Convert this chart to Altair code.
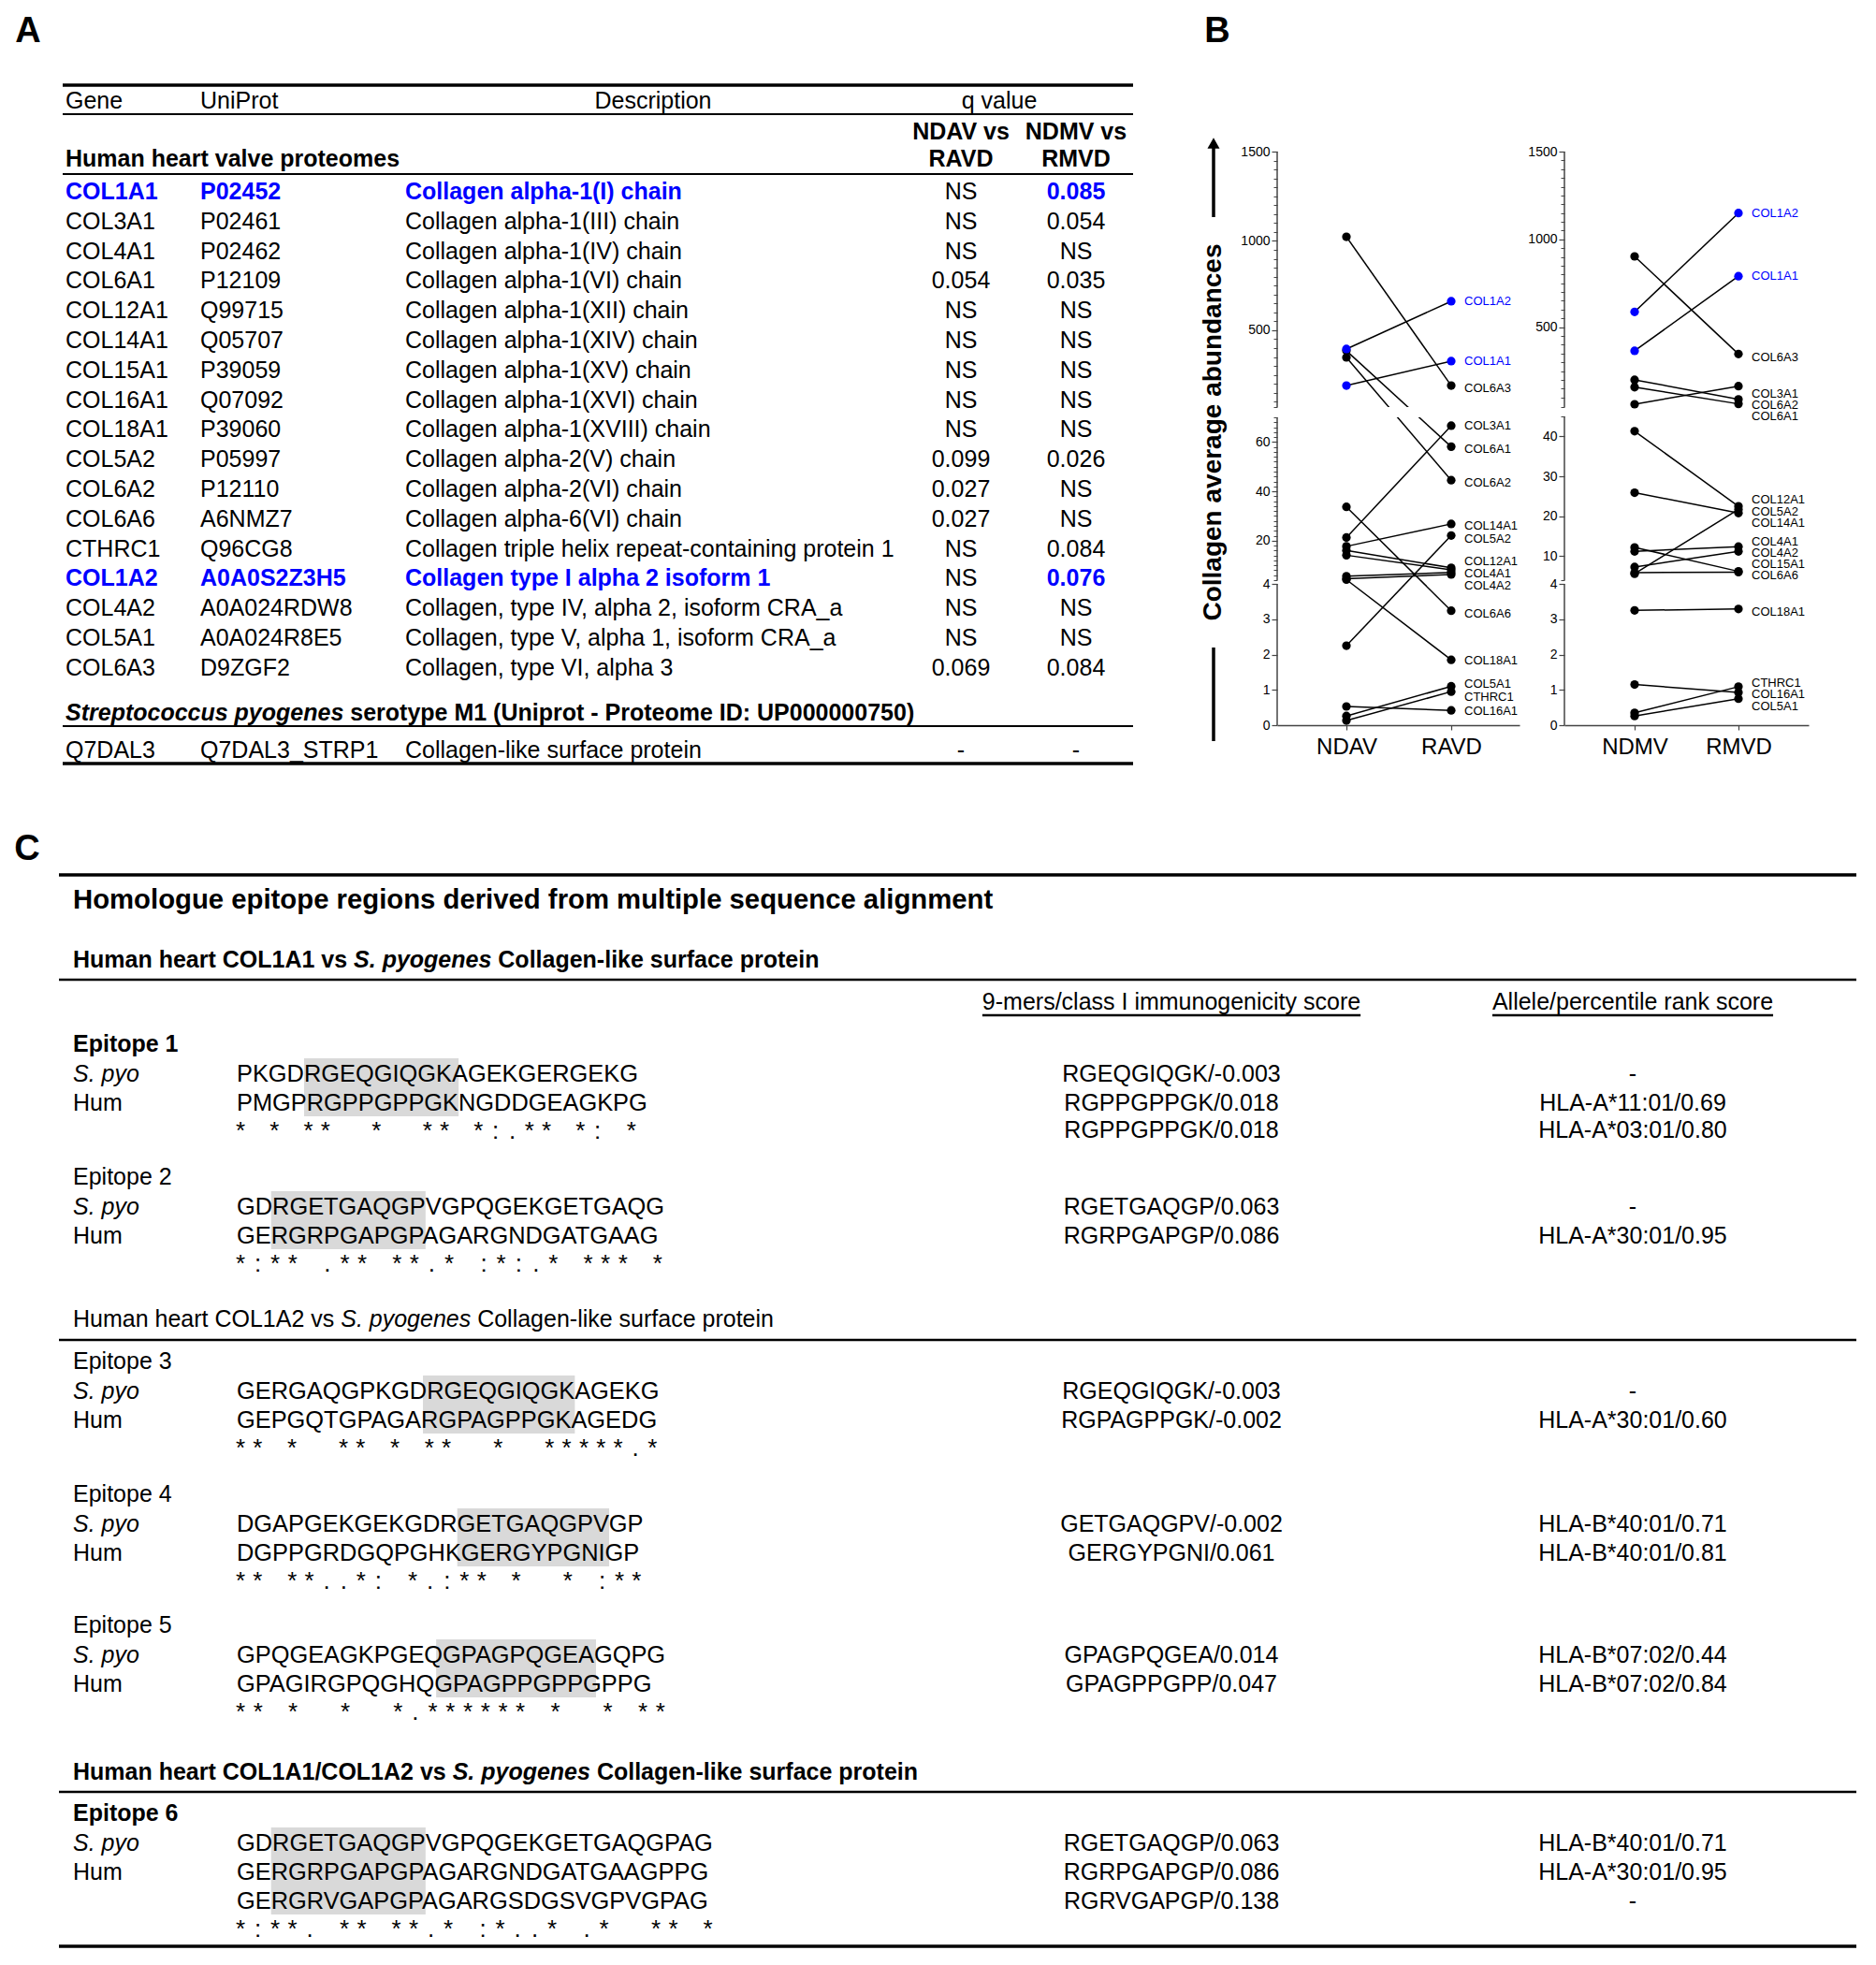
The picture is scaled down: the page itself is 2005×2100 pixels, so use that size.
import altair as alt
import pandas as pd

FONT = "Liberation Sans"
W, H = 1989, 2084          # drawing canvas (page minus the 8px margin)
M = 8
BLUE = "#0000ff"
INK = "#000000"
AXC = "#444444"
HLC = "#d9d9d9"
SEQ_FS = 25.4

# ---------------- Panel A: table values ----------------
A_GENE = ["COL1A1", "COL3A1", "COL4A1", "COL6A1", "COL12A1", "COL14A1", "COL15A1", "COL16A1",
          "COL18A1", "COL5A2", "COL6A2", "COL6A6", "CTHRC1", "COL1A2", "COL4A2", "COL5A1", "COL6A3"]
A_UNIPROT = ["P02452", "P02461", "P02462", "P12109", "Q99715", "Q05707", "P39059", "Q07092",
             "P39060", "P05997", "P12110", "A6NMZ7", "Q96CG8", "A0A0S2Z3H5", "A0A024RDW8",
             "A0A024R8E5", "D9ZGF2"]
A_DESC = ["Collagen alpha-1(I) chain", "Collagen alpha-1(III) chain", "Collagen alpha-1(IV) chain",
          "Collagen alpha-1(VI) chain", "Collagen alpha-1(XII) chain", "Collagen alpha-1(XIV) chain",
          "Collagen alpha-1(XV) chain", "Collagen alpha-1(XVI) chain", "Collagen alpha-1(XVIII) chain",
          "Collagen alpha-2(V) chain", "Collagen alpha-2(VI) chain", "Collagen alpha-6(VI) chain",
          "Collagen triple helix repeat-containing protein 1", "Collagen type I alpha 2 isoform 1",
          "Collagen, type IV, alpha 2, isoform CRA_a", "Collagen, type V, alpha 1, isoform CRA_a",
          "Collagen, type VI, alpha 3"]
A_Q_AV = ["NS", "NS", "NS", "0.054", "NS", "NS", "NS", "NS", "NS", "0.099", "0.027", "0.027",
          "NS", "NS", "NS", "NS", "0.069"]
A_Q_MV = ["0.085", "0.054", "NS", "0.035", "NS", "NS", "NS", "NS", "NS", "0.026", "NS", "NS",
          "0.084", "0.076", "NS", "NS", "0.084"]
HIGHLIGHT = ["COL1A1", "COL1A2"]
STREP_ROW = ["Q7DAL3", "Q7DAL3_STRP1", "Collagen-like surface protein", "-", "-"]

# ---------------- Panel B: abundances ----------------
B_GENE = ["COL1A1", "COL1A2", "COL3A1", "COL4A1", "COL4A2", "COL5A1", "COL5A2", "COL6A1", "COL6A2",
          "COL6A3", "COL6A6", "COL12A1", "COL14A1", "COL15A1", "COL16A1", "COL18A1", "CTHRC1"]
B_NDAV = [190, 395, 21.3, 5.6, 4.6, 0.26, 2.25, 385, 348, 1023, 33.7, 16.0, 17.7, 14.1, 0.53, 4.2, 0.13]
B_RAVD = [327, 662, 66.6, 7.1, 6.3, 1.10, 22.1, 58.1, 44.5, 190, 3.24, 9.0, 26.8, 8.2, 0.42, 1.85, 0.95]
B_NDMV = [365, 587, 61, 11.2, 7.3, 0.26, 5.6, 158, 200, 903, 12.2, 41.3, 25.9, 5.9, 1.15, 3.25, 0.35]
B_RMVD = [790, 1150, 164, 12.4, 11.2, 0.75, 21.7, 63, 89, 347, 6.2, 22.5, 20.8, 6.0, 0.93, 3.29, 1.09]
# where each gene label sits (data units)
B_RAVD_LABEL = [327, 662, 66.6, 6.7, 3.95, 1.17, 20.7, 57.1, 43.5, 175, 3.15, 11.6, 26.0, None, 0.40, 1.83, 0.79]
B_RMVD_LABEL = [791, 1150, 119.6, 13.6, 10.8, 0.53, 21.2, 45, 55.7, 329, 5.17, 24.15, 18.3, 7.98, 0.87, 3.2, 1.19]
B_TICKS_L = [0, 1, 2, 3, 4, 20, 40, 60, 500, 1000, 1500]
B_TICKS_R = [0, 1, 2, 3, 4, 10, 20, 30, 40, 500, 1000, 1500]

# ---------------- Panel C: alignments ----------------
C_TITLE = "Homologue epitope regions derived from multiple sequence alignment"
C_COLHEAD = ["9-mers/class I immunogenicity score", "Allele/percentile rank score"]
C_SUB_PRE = ["Human heart COL1A1 vs ", "Human heart COL1A2 vs ", "Human heart COL1A1/COL1A2 vs "]
C_SUB_ITAL = "S. pyogenes"
C_SUB_POST = " Collagen-like surface protein"
C_SUB_BOLD = [True, False, True]
EP_NAME = ["Epitope 1", "Epitope 2", "Epitope 3", "Epitope 4", "Epitope 5", "Epitope 6"]
EP_BOLD = [True, False, False, False, False, True]
EP_SPYO = ["PKGDRGEQGIQGKAGEKGERGEKG", "GDRGETGAQGPVGPQGEKGETGAQG", "GERGAQGPKGDRGEQGIQGKAGEKG",
           "DGAPGEKGEKGDRGETGAQGPVGP", "GPQGEAGKPGEQGPAGPQGEAGQPG", "GDRGETGAQGPVGPQGEKGETGAQGPAG"]
EP_HUM = ["PMGPRGPPGPPGKNGDDGEAGKPG", "GERGRPGAPGPAGARGNDGATGAAG", "GEPGQTGPAGARGPAGPPGKAGEDG",
          "DGPPGRDGQPGHKGERGYPGNIGP", "GPAGIRGPQGHQGPAGPPGPPGPPG", "GERGRPGAPGPAGARGNDGATGAAGPPG"]
EP_HUM2 = [None, None, None, None, None, "GERGRVGAPGPAGARGSDGSVGPVGPAG"]
EP_CONS = ["* * **  *  ** *:.** *: *",
           "*:** .** **.* :*:.* *** *",
           "** *  ** * **  *  *****.*",
           "** **..*: *.:** *  * :**",
           "** *  *  *.****** *  * **",
           "*:**. ** **.* :*..* .*  ** *"]
EP_CORE = [(4, 12), (2, 10), (11, 19), (13, 21), (12, 20), (2, 10)]
EP_9MER = [["RGEQGIQGK/-0.003", "RGPPGPPGK/0.018", "RGPPGPPGK/0.018"],
           ["RGETGAQGP/0.063", "RGRPGAPGP/0.086"],
           ["RGEQGIQGK/-0.003", "RGPAGPPGK/-0.002"],
           ["GETGAQGPV/-0.002", "GERGYPGNI/0.061"],
           ["GPAGPQGEA/0.014", "GPAGPPGPP/0.047"],
           ["RGETGAQGP/0.063", "RGRPGAPGP/0.086", "RGRVGAPGP/0.138"]]
EP_ALLELE = [["-", "HLA-A*11:01/0.69", "HLA-A*03:01/0.80"],
             ["-", "HLA-A*30:01/0.95"],
             ["-", "HLA-A*30:01/0.60"],
             ["HLA-B*40:01/0.71", "HLA-B*40:01/0.81"],
             ["HLA-B*07:02/0.44", "HLA-B*07:02/0.84"],
             ["HLA-B*40:01/0.71", "HLA-A*30:01/0.95", "-"]]

# ---------------- layout (page pixels) ----------------
LA = dict(x0=67, x1=1211, x_gene=70, x_uni=214, x_desc=433, x_q1=1027, x_q2=1150, x_qh=1068,
          x_dh=698, y_top=91, y_head=108, y_l1=122, y_vs=141, y_sub=170, y_l2=186, y_row0=205,
          pitch=31.8, y_strep=762, y_l3=776, y_q7=802, y_bot=816, fs=25)
LC = dict(x0=63, x1=1984, x_lab=78, x_seq=253, x_9=1252, x_al=1745, y_top=935, y_title=962,
          y_sub=[1026, 1410, 1894], y_line=[1047, 1432, 1915], y_colh=1071, y_ul=1085,
          y_bot=2080, fs=25)
EP_Y = [1116, 1258, 1455, 1597, 1737, 1938]

# Arial-compatible advance widths (per 1000 em) used to place mixed-style runs
AR = {' ': 278, '*': 389, '-': 333, '.': 278, '/': 278, ':': 278, '(': 333, ')': 333, ',': 278, '_': 556,
      'A': 667, 'B': 667, 'C': 722, 'D': 722, 'E': 667, 'F': 611, 'G': 778, 'H': 722, 'I': 278, 'J': 500,
      'K': 667, 'L': 556, 'M': 833, 'N': 722, 'O': 778, 'P': 667, 'Q': 778, 'R': 722, 'S': 667, 'T': 611,
      'U': 722, 'V': 667, 'W': 944, 'X': 667, 'Y': 667, 'Z': 611, 'a': 556, 'b': 556, 'c': 500, 'd': 556,
      'e': 556, 'f': 278, 'g': 556, 'h': 556, 'i': 222, 'j': 222, 'k': 500, 'l': 222, 'm': 833, 'n': 556,
      'o': 556, 'p': 556, 'q': 556, 'r': 333, 's': 500, 't': 278, 'u': 556, 'v': 500, 'w': 722, 'x': 500,
      'y': 500, 'z': 500}
AB = {' ': 278, '*': 389, '-': 333, '.': 278, '/': 278, ':': 333, '(': 333, ')': 333, ',': 278, '_': 556,
      'A': 722, 'B': 722, 'C': 722, 'D': 722, 'E': 667, 'F': 611, 'G': 778, 'H': 722, 'I': 278, 'J': 556,
      'K': 722, 'L': 611, 'M': 833, 'N': 722, 'O': 778, 'P': 667, 'Q': 778, 'R': 722, 'S': 667, 'T': 611,
      'U': 722, 'V': 667, 'W': 944, 'X': 667, 'Y': 667, 'Z': 611, 'a': 556, 'b': 611, 'c': 556, 'd': 611,
      'e': 556, 'f': 333, 'g': 611, 'h': 611, 'i': 278, 'j': 278, 'k': 556, 'l': 278, 'm': 889, 'n': 611,
      'o': 611, 'p': 611, 'q': 611, 'r': 389, 's': 556, 't': 333, 'u': 611, 'v': 556, 'w': 778, 'x': 556,
      'y': 556, 'z': 500}


def tw(s, fs, bold=False):
    tbl = AB if bold else AR
    return sum(tbl.get(ch, 556) for ch in s) * fs / 1000.0


texts, hrules, vrules, rects = [], [], [], []


def T(x, y, t, fs=25, c=INK, w="normal", s="normal", a="left", base="middle", ang=0):
    texts.append(dict(x=x - M, y=y - M, t=t, fs=fs, c=c, w=w, s=s, a=a, b=base, ang=ang))


def HR(x1, x2, y, w):
    hrules.append(dict(x=x1 - M, x2=x2 - M, y=y - M, w=w))


def VR(x, y1, y2, w):
    vrules.append(dict(x=x - M, y=y1 - M, y2=y2 - M, w=w))


def mixed(x, y, parts, bold, fs=25):
    for text, ital in parts:
        lead = len(text) - len(text.lstrip(" "))
        T(x + tw(" " * lead, fs, bold), y, text.strip(), fs=fs,
          w="bold" if bold else "normal", s="italic" if ital else "normal")
        x += tw(text, fs, bold)


# ---- panel letters
T(30, 34, "A", fs=38, w="bold", a="center")
T(1301, 34, "B", fs=38, w="bold", a="center")
T(29, 908, "C", fs=38, w="bold", a="center")

# ---- Panel A table
HR(LA["x0"], LA["x1"], LA["y_top"], 3.5)
T(LA["x_gene"], LA["y_head"], "Gene")
T(LA["x_uni"], LA["y_head"], "UniProt")
T(LA["x_dh"], LA["y_head"], "Description", a="center")
T(LA["x_qh"], LA["y_head"], "q value", a="center")
HR(LA["x0"], LA["x1"], LA["y_l1"], 2)
T(LA["x_q1"], LA["y_vs"], "NDAV vs", w="bold", a="center")
T(LA["x_q2"], LA["y_vs"], "NDMV vs", w="bold", a="center")
T(LA["x_gene"], LA["y_sub"], "Human heart valve proteomes", w="bold")
T(LA["x_q1"], LA["y_sub"], "RAVD", w="bold", a="center")
T(LA["x_q2"], LA["y_sub"], "RMVD", w="bold", a="center")
HR(LA["x0"], LA["x1"], LA["y_l2"], 2)
for i, g in enumerate(A_GENE):
    y = LA["y_row0"] + LA["pitch"] * i
    hl = g in HIGHLIGHT
    c = BLUE if hl else INK
    w = "bold" if hl else "normal"
    T(LA["x_gene"], y, g, c=c, w=w)
    T(LA["x_uni"], y, A_UNIPROT[i], c=c, w=w)
    T(LA["x_desc"], y, A_DESC[i], c=c, w=w)
    T(LA["x_q1"], y, A_Q_AV[i], a="center")
    T(LA["x_q2"], y, A_Q_MV[i], c=c, w=w, a="center")
mixed(LA["x_gene"], LA["y_strep"], [("Streptococcus pyogenes", True),
                                     (" serotype M1 (Uniprot - Proteome ID: UP000000750)", False)], True)
HR(LA["x0"], LA["x1"], LA["y_l3"], 2)
T(LA["x_gene"], LA["y_q7"], STREP_ROW[0])
T(LA["x_uni"], LA["y_q7"], STREP_ROW[1])
T(LA["x_desc"], LA["y_q7"], STREP_ROW[2])
T(LA["x_q1"], LA["y_q7"], STREP_ROW[3], a="center")
T(LA["x_q2"], LA["y_q7"], STREP_ROW[4], a="center")
HR(LA["x0"], LA["x1"], LA["y_bot"], 3.5)

# ---- Panel B axis title with arrow
T(1297, 462, "Collagen average abundances", fs=28, w="bold", a="center", ang=270)
VR(1297, 692, 792, 3.5)
VR(1297, 157, 232, 3.5)
arrow_head = pd.DataFrame([dict(x=1297 - M, y=153 - M)])

# ---- Panel C table
HR(LC["x0"], LC["x1"], LC["y_top"], 3.5)
T(LC["x_lab"], LC["y_title"], C_TITLE, fs=29.3, w="bold")
for k in range(3):
    mixed(LC["x_lab"], LC["y_sub"][k], [(C_SUB_PRE[k], False), (C_SUB_ITAL, True), (C_SUB_POST, False)],
          C_SUB_BOLD[k])
    HR(LC["x0"], LC["x1"], LC["y_line"][k], 2.5)
for cx, head in zip([LC["x_9"], LC["x_al"]], C_COLHEAD):
    T(cx, LC["y_colh"], head, a="center")
    hw = tw(head, 25) / 2
    HR(cx - hw, cx + hw, LC["y_ul"], 2.5)
HR(LC["x0"], LC["x1"], LC["y_bot"], 3.5)

for e in range(6):
    y0 = EP_Y[e]
    T(LC["x_lab"], y0, EP_NAME[e], w="bold" if EP_BOLD[e] else "normal")
    seqs = [("S. pyo", EP_SPYO[e]), ("Hum", EP_HUM[e])]
    if EP_HUM2[e]:
        seqs.append(("", EP_HUM2[e]))
    rows_y = [y0 + 32 + 31 * r for r in range(len(seqs))]
    y_cons = rows_y[-1] + 29
    for (lab, seq), yy in zip(seqs, rows_y):
        if lab:
            T(LC["x_lab"], yy, lab, s="italic" if lab.startswith("S.") else "normal")
        T(LC["x_seq"], yy, seq, fs=SEQ_FS)
    # grey box around the 9-mer core
    s0, s1 = EP_CORE[e]
    xa = min(LC["x_seq"] + tw(sq[:s0], SEQ_FS) for _, sq in seqs)
    xb = max(LC["x_seq"] + tw(sq[:s1 + 1], SEQ_FS) for _, sq in seqs)
    rects.append(dict(x=xa - M, x2=xb - M, y=rows_y[0] - 17 - M, y2=rows_y[-1] + 14 - M))
    # conservation symbols, one column per alignment position
    ref = EP_SPYO[e]
    n = len(ref)
    pitch = (tw(ref, SEQ_FS) - 4) / (n - 0.6)
    for i, sym in enumerate(EP_CONS[e]):
        if sym != " ":
            T(LC["x_seq"] + 4 + i * pitch, y_cons + 9, sym, fs=26, a="center", base="alphabetic")
    ys9 = rows_y + [y_cons]
    for r, (nm, al) in enumerate(zip(EP_9MER[e], EP_ALLELE[e])):
        T(LC["x_9"], ys9[r], nm, a="center")
        T(LC["x_al"], ys9[r], al, a="center")

XS = alt.Scale(domain=[0, W], range=[0, W], nice=False, zero=False)
YS = alt.Scale(domain=[0, H], range=[0, H], nice=False, zero=False)

layers = []
layers.append(alt.Chart(pd.DataFrame(rects)).mark_rect(color=HLC).encode(
    x=alt.X("x:Q", scale=XS, axis=None), x2="x2:Q",
    y=alt.Y("y:Q", scale=YS, axis=None), y2="y2:Q"))
layers.append(alt.Chart(pd.DataFrame(hrules)).mark_rule(color=INK).encode(
    x=alt.X("x:Q", scale=XS, axis=None), x2="x2:Q",
    y=alt.Y("y:Q", scale=YS, axis=None), strokeWidth=alt.StrokeWidth("w:Q", scale=None)))
layers.append(alt.Chart(pd.DataFrame(vrules)).mark_rule(color=INK).encode(
    x=alt.X("x:Q", scale=XS, axis=None),
    y=alt.Y("y:Q", scale=YS, axis=None), y2="y2:Q", strokeWidth=alt.StrokeWidth("w:Q", scale=None)))
layers.append(alt.Chart(arrow_head).mark_point(shape="triangle-up", filled=True, size=170, color=INK,
                                              opacity=1).encode(
    x=alt.X("x:Q", scale=XS, axis=None), y=alt.Y("y:Q", scale=YS, axis=None)))

tdf = pd.DataFrame(texts)
for (w, s, a, b, ang), g in tdf.groupby(["w", "s", "a", "b", "ang"]):
    layers.append(alt.Chart(g).mark_text(align=a, baseline=b, fontWeight=w, fontStyle=s, font=FONT,
                                         angle=int(ang)).encode(
        x=alt.X("x:Q", scale=XS, axis=None), y=alt.Y("y:Q", scale=YS, axis=None),
        text="t:N", size=alt.Size("fs:Q", scale=None), color=alt.Color("c:N", scale=None)))


def panel_b(names, v0, v1, lab, xdom, xrng, ydom, yrng, yvals, minor, segs, gap):
    xs = alt.Scale(domain=list(xdom), range=list(xrng), nice=False, zero=False)
    ys = alt.Scale(domain=list(ydom), range=list(yrng), nice=False, zero=False)
    rows = []
    for g, a, b in zip(B_GENE, v0, v1):
        hl = int(g in HIGHLIGHT)
        col = BLUE if hl else INK
        rows.append(dict(gene=g, ci=0, v=a, col=col, hl=hl))
        rows.append(dict(gene=g, ci=1, v=b, col=col, hl=hl))
    df = pd.DataFrame(rows)
    pts = df.sort_values("hl", kind="stable")
    labdf = pd.DataFrame([dict(gene=g, ci=1, v=l, col=BLUE if g in HIGHLIGHT else INK)
                          for g, l in zip(B_GENE, lab) if l is not None])
    segdf = pd.DataFrame([dict(ax=xdom[0], lo=a, hi=b) for a, b in segs])
    gapdf = pd.DataFrame([dict(a=xdom[0], b=xdom[1], lo=gap[0], hi=gap[1])])
    y_off = -xrng[0]
    x_off = -(H - yrng[0])
    out = []
    out.append(alt.Chart(segdf).mark_rule(color=AXC, strokeWidth=1.5).encode(
        x=alt.X("ax:Q", scale=xs, axis=None),
        y=alt.Y("lo:Q", scale=ys, axis=alt.Axis(values=minor, labels=False, domain=False, tickSize=4,
                                                 tickColor=AXC, tickWidth=1, orient="left",
                                                 offset=y_off, grid=False, title=None)),
        y2="hi:Q"))
    out.append(alt.Chart(df).mark_line(color=INK, strokeWidth=1.5).encode(
        x=alt.X("ci:Q", scale=xs, axis=None), y=alt.Y("v:Q", scale=ys, axis=None), detail="gene:N"))
    out.append(alt.Chart(gapdf).mark_rect(color="white", xOffset=1).encode(
        x=alt.X("a:Q", scale=xs, axis=None), x2="b:Q",
        y=alt.Y("lo:Q", scale=ys, axis=None), y2="hi:Q"))
    out.append(alt.Chart(pts).mark_circle(size=85, opacity=1).encode(
        x=alt.X("ci:Q", scale=xs, axis=alt.Axis(
            values=[0, 1], labelExpr=f"datum.value == 0 ? '{names[0]}' : '{names[1]}'",
            orient="bottom", offset=x_off, domain=True, domainColor=AXC, domainWidth=1.5,
            tickSize=5, tickColor=AXC, tickWidth=1.2, labelFont=FONT, labelFontSize=24,
            labelColor=INK, labelPadding=6, labelFlush=False, grid=False, title=None)),
        y=alt.Y("v:Q", scale=ys, axis=alt.Axis(
            values=yvals, format="d", orient="left", offset=y_off, domain=False, tickSize=6,
            tickColor=AXC, tickWidth=1.2, labelFont=FONT, labelFontSize=14, labelColor=INK,
            labelPadding=2, labelOverlap=False, grid=False, title=None)),
        color=alt.Color("col:N", scale=None)))
    out.append(alt.Chart(labdf).mark_text(align="left", baseline="middle", dx=14, fontSize=13,
                                          font=FONT).encode(
        x=alt.X("ci:Q", scale=xs, axis=None), y=alt.Y("v:Q", scale=ys, axis=None),
        text="gene:N", color=alt.Color("col:N", scale=None)))
    return out


minor_top = [v for v in range(100, 1500, 50) if v not in (500, 1000)]
minor_l = minor_top + [4.0001, 70, 70.0001] + [v for v in range(6, 70, 2) if v not in (20, 40, 60)]
minor_r = minor_top + [4.0001, 45, 45.0001]

layers += panel_b(["NDAV", "RAVD"], B_NDAV, B_RAVD, B_RAVD_LABEL,
                  (-0.6607, 1.6518), (1357, 1616),
                  (0, 4, 4.0001, 70, 70.0001, 1500), (767, 616, 612, 438, 427, 154),
                  B_TICKS_L, minor_l, [(0, 4), (4.0001, 70), (70.0001, 1500)], (70, 70.0001))
layers += panel_b(["NDMV", "RMVD"], B_NDMV, B_RMVD, B_RMVD_LABEL,
                  (-0.6757, 1.6757), (1664, 1925),
                  (0, 4, 4.0001, 45, 45.0001, 1500), (767, 616, 612, 437, 427, 154),
                  B_TICKS_R, minor_r, [(0, 4), (4.0001, 45), (45.0001, 1500)], (45, 45.0001))

chart = alt.layer(*layers).resolve_scale(x="independent", y="independent").properties(
    width=W, height=H, autosize=alt.AutoSizeParams(type="none"), padding=0, background="white"
).configure_view(strokeWidth=0)

chart.save("out.html", embed_options={"renderer": "svg", "actions": False})
